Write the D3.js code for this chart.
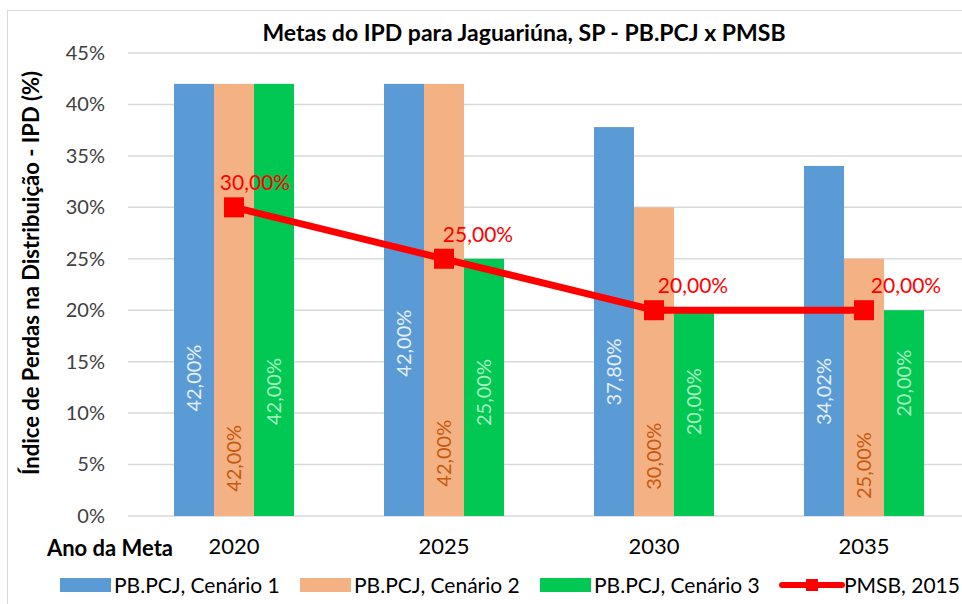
<!DOCTYPE html>
<html>
<head>
<meta charset="utf-8">
<script src="https://cdn.jsdelivr.net/npm/d3@7"></script>
<style>
  body { margin: 0; background: #fff; }
  svg { display: block; font-family: Lato, "Open Sans", sans-serif; }
</style>
</head>
<body>
<svg id="chart" width="962" height="604"></svg>
<script>
// chart data
const years = ["2020", "2025", "2030", "2035"];
const seriesNames = ["PB.PCJ, Cenário 1", "PB.PCJ, Cenário 2", "PB.PCJ, Cenário 3"];
const cenario1 = [42.0, 42.0, 37.8, 34.02];
const cenario2 = [42.0, 42.0, 30.0, 25.0];
const cenario3 = [42.0, 25.0, 20.0, 20.0];
const pmsbName = "PMSB, 2015";
const pmsb = [30.0, 25.0, 20.0, 20.0];
const yTicks = [0, 5, 10, 15, 20, 25, 30, 35, 40, 45];

// where the rotated labels sit inside bars (value units, label centre)
const labelAt = [
  [13.4, 16.8, 14.0, 12.1],
  [5.6, 6.1, 5.8, 4.9],
  [12.1, 12.0, 11.1, 12.9]
];
const pmsbLabelDx = [21, 34, 39, 42];

const colors = ["#5b9bd5", "#f4b183", "#00c853"];
const labelColors = ["#e3eefa", "#c55a11", "#a6f0c0"];
const red = "#ff0000";

const fmt = v => d3.format(".2f")(v).replace(".", ",") + "%";

const svg = d3.select("#chart");

// outer frame
svg.append("rect")
  .attr("x", 7.5).attr("y", 10.5)
  .attr("width", 1000).attr("height", 700)
  .attr("fill", "none").attr("stroke", "#d9d9d9");

const y = d3.scaleLinear().domain([0, 45]).range([516, 53]);
const x0 = d3.scaleBand().domain(years).range([129, 969]);
const groupW = x0.bandwidth() * 120 / 210;
const x1 = d3.scaleBand().domain(d3.range(3)).range([-groupW / 2, groupW / 2]);

// title
svg.append("text")
  .attr("x", 524).attr("y", 41)
  .attr("text-anchor", "middle")
  .attr("font-size", 23).attr("font-weight", "bold").attr("fill", "#000")
  .text("Metas do IPD para Jaguariúna, SP - PB.PCJ x PMSB");

// grid lines
svg.append("g").selectAll("line")
  .data(yTicks)
  .join("line")
  .attr("x1", 128).attr("x2", 962)
  .attr("y1", d => y(d)).attr("y2", d => y(d))
  .attr("stroke", "#d9d9d9").attr("stroke-width", 1.5);

// y axis labels
const yAxis = svg.append("g")
  .attr("transform", "translate(110,0)")
  .call(d3.axisLeft(y).tickValues(yTicks).tickFormat(d => d + "%").tickSize(0).tickPadding(5));
yAxis.select(".domain").remove();
yAxis.selectAll("text").attr("font-size", 20).attr("font-family", "Lato, sans-serif").attr("fill", "#404040");

// y axis title
svg.append("text")
  .attr("transform", "translate(39,273) rotate(-90)")
  .attr("text-anchor", "middle")
  .attr("font-size", 22).attr("font-weight", "bold").attr("fill", "#000")
  .text("Índice de Perdas na Distribuição - IPD (%)");

// bars
const seriesVals = [cenario1, cenario2, cenario3];
const barG = svg.append("g");
seriesVals.forEach((vals, s) => {
  barG.append("g").selectAll("rect")
    .data(vals)
    .join("rect")
    .attr("x", (d, i) => x0(years[i]) + x0.bandwidth() / 2 + x1(s))
    .attr("y", d => y(d))
    .attr("width", x1.bandwidth())
    .attr("height", d => y(0) - y(d))
    .attr("fill", colors[s]);
});

// bar value labels (rotated)
seriesVals.forEach((vals, s) => {
  svg.append("g").selectAll("text")
    .data(vals)
    .join("text")
    .attr("transform", (d, i) => {
      const cx = x0(years[i]) + x0.bandwidth() / 2 + x1(s) + x1.bandwidth() / 2;
      return `translate(${cx},${y(labelAt[s][i])}) rotate(-90)`;
    })
    .attr("text-anchor", "middle")
    .attr("dy", "0.35em")
    .attr("font-size", 20)
    .attr("fill", labelColors[s])
    .text(d => fmt(d));
});

// PMSB line
const cx = i => x0(years[i]) + x0.bandwidth() / 2;
const line = d3.line().x((d, i) => cx(i)).y(d => y(d));
svg.append("path")
  .datum(pmsb)
  .attr("d", line)
  .attr("fill", "none")
  .attr("stroke", red)
  .attr("stroke-width", 7)
  .attr("stroke-linejoin", "round");
svg.append("g").selectAll("rect")
  .data(pmsb)
  .join("rect")
  .attr("x", (d, i) => cx(i) - 10)
  .attr("y", d => y(d) - 10)
  .attr("width", 20).attr("height", 20)
  .attr("fill", red);
svg.append("g").selectAll("text")
  .data(pmsb)
  .join("text")
  .attr("x", (d, i) => cx(i) + pmsbLabelDx[i])
  .attr("y", d => y(d) - 17)
  .attr("text-anchor", "middle")
  .attr("font-size", 21)
  .attr("fill", red)
  .text(d => fmt(d));

// x axis labels
const xAxis = svg.append("g")
  .attr("transform", "translate(0,538)")
  .call(d3.axisBottom(x0).tickSize(0).tickPadding(0));
xAxis.select(".domain").remove();
xAxis.selectAll("text").attr("font-size", 22).attr("font-family", "Lato, sans-serif").attr("fill", "#000");

svg.append("text")
  .attr("x", 110).attr("y", 556)
  .attr("text-anchor", "middle")
  .attr("font-size", 22).attr("font-weight", "bold").attr("fill", "#000")
  .text("Ano da Meta");

// legend
const legendItems = [
  { name: seriesNames[0], color: colors[0], x: 60 },
  { name: seriesNames[1], color: colors[1], x: 300 },
  { name: seriesNames[2], color: colors[2], x: 540 }
];
const leg = svg.append("g");
legendItems.forEach(it => {
  leg.append("rect").attr("x", it.x).attr("y", 578).attr("width", 51).attr("height", 14).attr("fill", it.color);
  leg.append("text").attr("x", it.x + 54).attr("y", 593)
    .attr("font-size", 21).attr("fill", "#000").text(it.name);
});
leg.append("line").attr("x1", 782).attr("x2", 842).attr("y1", 585).attr("y2", 585)
  .attr("stroke", red).attr("stroke-width", 6).attr("stroke-linecap", "round");
leg.append("rect").attr("x", 806).attr("y", 579).attr("width", 12).attr("height", 12).attr("fill", red);
leg.append("text").attr("x", 844).attr("y", 593)
  .attr("font-size", 21).attr("fill", "#000").text(pmsbName);
</script>
</body>
</html>
